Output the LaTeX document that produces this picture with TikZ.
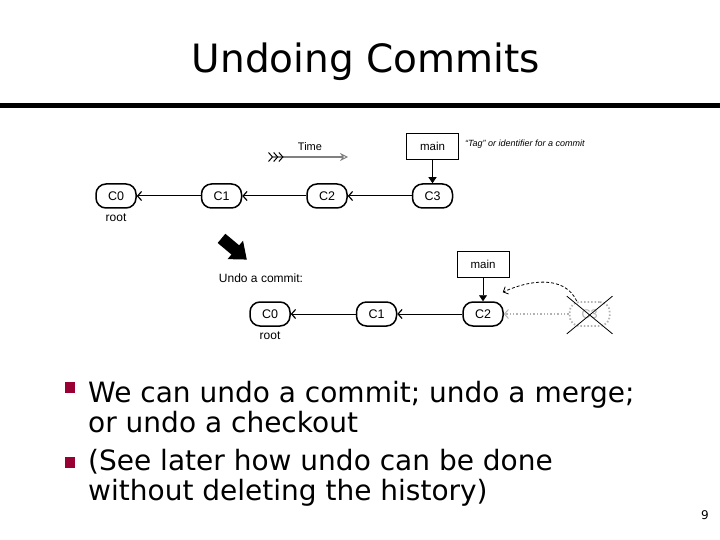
\documentclass[tikz,border=0pt]{standalone}
\usepackage{fontspec}
\setmainfont{DejaVu Sans}
\newfontfamily\diag{Liberation Sans}
\usepackage{tikz}
\usetikzlibrary{positioning,arrows.meta}
\usepackage{xcolor}
\definecolor{bulletred}{HTML}{990033}

\begin{document}
\begin{tikzpicture}[
  x=1pt, y=1pt,
  node distance=64pt,
  commit/.style={draw, line width=1.5pt, rounded corners=10pt, minimum width=40pt, minimum height=24pt, inner sep=1pt, font=\diag\fontsize{12.5}{14}\selectfont},
  ghostcommit/.style={commit, draw=gray!60, text=gray!60, dotted, line width=1.8pt},
  tagbox/.style={draw, line width=0.6pt, minimum width=52pt, minimum height=26pt, font=\diag\fontsize{11.5}{14}\selectfont},
  lbl/.style={font=\diag\fontsize{12}{14}\selectfont, inner sep=1pt},
  link/.style={-{Straight Barb[length=4pt,width=9pt,line width=1.2pt]}, line width=1pt},
  tagarr/.style={-{Triangle[length=6pt,width=8pt]}, line width=0.8pt},
  fletch/.tip={Straight Barb[reversed,black,length=4pt,width=9pt,line width=1pt]},
  bullet/.style={fill=bulletred, minimum width=10pt, minimum height=11pt, inner sep=0pt},
  body/.style={align=left, anchor=base west, inner sep=0pt, font=\fontsize{28}{30}\selectfont}
]
\useasboundingbox (0,0) rectangle (720,-540);

\node[anchor=base, font=\fontsize{39}{44}\selectfont] (title) at (366,-73) {Undoing Commits};
\draw[line width=5pt] (0,-106) -- (720,-106);

% history before the undo
\node[commit] (c0) at (116,-196) {C0};
\node[commit, right=of c0] (c1) {C1};
\node[commit, right=of c1] (c2) {C2};
\node[commit, right=of c2] (c3) {C3};
\node[lbl, below=4pt of c0] (root1) {root};
\node[tagbox, above=24pt of c3] (main1) {main};
\node[lbl, right=5pt of main1, yshift=2pt, font=\diag\itshape\fontsize{9}{11}\selectfont] (tag) {“Tag” or identifier for a commit};

\node[lbl, font=\diag\fontsize{11}{12}\selectfont] (time) at (310,-147) {Time};
\coordinate (tfrom) at (268,-157);
\coordinate (tto) at (348,-157);
\draw[gray, line width=2.6pt, {fletch[] fletch[] fletch[]}-{Stealth[open,length=8pt,width=8pt,line width=1pt]}]
  (tfrom) -- (tto);

\draw[link] (c1) -- (c0);
\draw[link] (c2) -- (c1);
\draw[link] (c3) -- (c2);
\draw[tagarr] (main1) -- (c3);

% after undoing C3
\fill[rotate around={-40:(233,-248)}]
  (218,-242) -- (236,-242) -- (236,-236) -- (251,-248) -- (236,-260) -- (236,-254) -- (218,-254) -- cycle;
\node[lbl] (undo) at (261,-278) {Undo a commit:};

\node[commit] (b0) at (270,-314) {C0};
\node[commit, right=65pt of b0] (b1) {C1};
\node[commit, right=65pt of b1] (b2) {C2};
\node[ghostcommit, right=65pt of b2] (ghost) {C3};
\node[lbl, below=4pt of b0] (root2) {root};
\node[tagbox, above=24pt of b2] (main2) {main};

\draw[link] (b1) -- (b0);
\draw[link] (b2) -- (b1);
\draw[tagarr] (main2) -- (b2);
\draw[gray!60, dotted, line width=1.4pt, -{Straight Barb[length=4pt,width=9pt,line width=1pt]}] (ghost) -- (b2);
\draw[dashed, dash pattern=on 3pt off 2pt, line width=0.8pt, -{Straight Barb[length=4pt,width=8pt]}]
  (ghost.135) to[out=115, in=25] ([shift={(-1pt,9pt)}]b2.north east);
\draw[line width=0.8pt] ([shift={(-2pt,5pt)}]ghost.north west) -- ([shift={(2pt,-7pt)}]ghost.south east);
\draw[line width=0.8pt] ([shift={(2pt,5pt)}]ghost.north east) -- ([shift={(-2pt,-7pt)}]ghost.south west);

% bullets
\node[bullet] (dot1) at (70,-387) {};
\node[body] (item1) at (88,-432) {We can undo a commit; undo a merge;\\or undo a checkout};
\node[bullet] (dot2) at (70,-462) {};
\node[body] (item2) at (88,-500) {(See later how undo can be done\\without deleting the history)};

\node[font=\fontsize{12}{14}\selectfont] (page) at (705,-515) {9};
\end{tikzpicture}
\end{document}
